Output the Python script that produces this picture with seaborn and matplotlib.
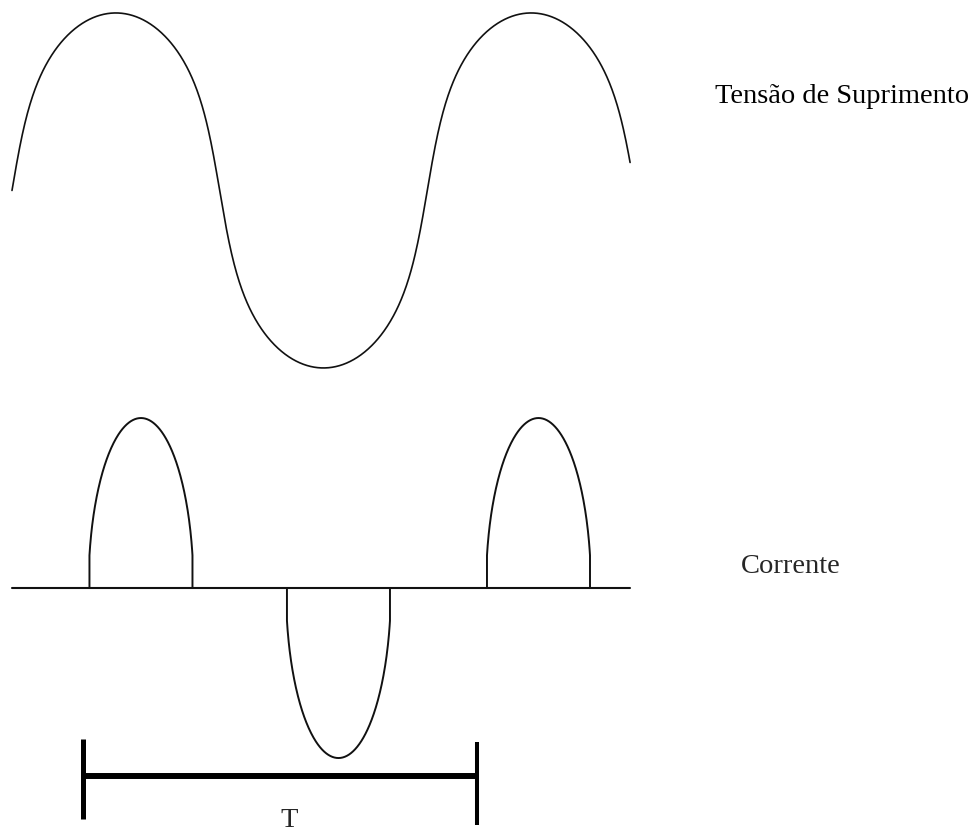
import numpy as np
import pandas as pd
import matplotlib.pyplot as plt
import seaborn as sns

# supply voltage: angle range drawn (degrees), peak (p.u.) and how square the
# wave is drawn (1 = pure sine, smaller = steeper flanks, as in the picture)
v_start, v_end = 0.0, 535.8
v_peak = 1.0
v_shape = 0.4
v_soft = 0.28

# current pulses: centre angle, sign, half width where they switch on/off,
# and the half axis of the elliptic arc they follow
pulse_centres = [111.8, 283.0, 456.4]
pulse_signs = [1, -1, 1]
pulse_half = 44.65
pulse_axis = 45.5
baseline_span = [0.0, 535.8]

# period bracket (degrees / current p.u.)
t_left, t_right = 61.6, 403.1
t_level = -1.106
t_left_bar = [-0.888, -1.359]
t_right_bar = [-0.906, -1.394]

label_v = "Tensão de Suprimento"
label_i = "Corrente"
label_t = "T"

sns.set_style("white")
plt.rcParams['font.family'] = ['Liberation Serif', 'DejaVu Serif']

# voltage curve
theta = np.linspace(v_start, v_end, 1200)
s = np.sin(np.radians(theta))
e2 = v_soft ** 2
v = s * ((1 + e2) / (s ** 2 + e2)) ** ((1 - v_shape) / 2)
volt = pd.DataFrame({'ang': theta, 'v': v_peak * v})

# current pulses: clipped elliptic arcs with vertical edges
rows = []
for n, (c, sg) in enumerate(zip(pulse_centres, pulse_signs)):
    d = np.linspace(-pulse_half, pulse_half, 300)
    arc = sg * np.sqrt(1 - (d / pulse_axis) ** 2)
    xs = np.concatenate([[c - pulse_half], c + d, [c + pulse_half]])
    ys = np.concatenate([[0], arc, [0]])
    for a, b in zip(xs, ys):
        rows.append({'pulse': n, 'ang': a, 'i': b})
curr = pd.DataFrame(rows)

fig = plt.figure(figsize=(9.78, 8.33), dpi=100)
ax_v = fig.add_axes([0, 0, 1, 1])
ax_i = fig.add_axes([0, 0, 1, 1])
ax_i.patch.set_alpha(0)

sns.lineplot(data=volt, x='ang', y='v', ax=ax_v, color='#111111', lw=1.2,
             sort=False, estimator=None)
ax_v.set_xlim(-10.4, 837.4)
ax_v.set_ylim(-3.62, 1.073)
ax_v.text(609.5, 0.493, label_v, fontsize=20.5, va='baseline', ha='left', color='black')

for n in curr['pulse'].unique():
    sub = curr[curr['pulse'] == n]
    sns.lineplot(data=sub, x='ang', y='i', ax=ax_i, color='#111111', lw=1.4,
                 sort=False, estimator=None)
ax_i.plot(baseline_span, [0, 0], color='#111111', lw=1.5)

# period bracket
ax_i.plot([t_left, t_right], [t_level, t_level], color='black', lw=4.3, solid_capstyle='butt')
ax_i.plot([t_left, t_left], t_left_bar, color='black', lw=3.6, solid_capstyle='butt')
ax_i.plot([t_right, t_right], t_right_bar, color='black', lw=2.9, solid_capstyle='butt')
ax_i.text(240.1, -1.406, label_t, fontsize=20.5, va='baseline', ha='center')
ax_i.text(632.0, 0.088, label_i, fontsize=20.5, va='baseline', ha='left')

ax_i.set_xlim(-10.4, 837.4)
ax_i.set_ylim(-1.441, 3.459)

for ax in (ax_v, ax_i):
    ax.set_axis_off()
    ax.set_xlabel('')
    ax.set_ylabel('')

fig.savefig('out.png', dpi=100, facecolor='white')
